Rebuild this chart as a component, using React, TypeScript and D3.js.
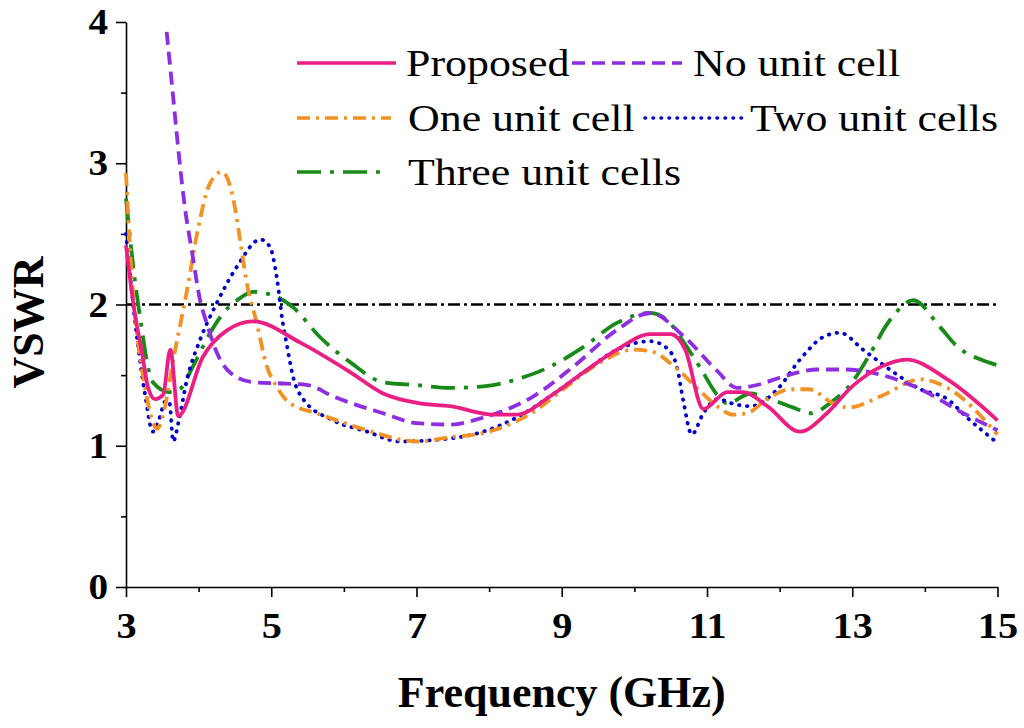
import React, { useEffect, useRef } from 'react';
import * as d3 from 'd3';

// [frequency GHz, VSWR]
const proposed: [number, number][] = [
  [3.0, 2.42], [3.12, 1.94], [3.22, 1.66], [3.3, 1.42], [3.4, 1.33], [3.51, 1.36], [3.61, 1.68], [3.72, 1.21],
  [4.06, 1.63], [4.4, 1.82], [4.75, 1.88], [5.4, 1.73], [6.09, 1.52], [6.54, 1.37], [7.05, 1.3], [7.46, 1.28],
  [8.06, 1.22], [8.38, 1.22], [8.84, 1.35], [9.3, 1.52], [9.76, 1.68], [10.22, 1.79], [10.5, 1.79], [10.7, 1.68],
  [10.95, 1.26], [11.28, 1.38], [11.5, 1.38], [11.83, 1.28], [12.28, 1.1], [12.65, 1.23], [13.0, 1.42],
  [13.4, 1.56], [13.75, 1.61], [14.31, 1.47], [15.0, 1.18],
];
const noUnitCell: [number, number][] = [
  [3.56, 3.93], [3.63, 3.57], [3.72, 3.1], [3.81, 2.69], [3.91, 2.37], [4.02, 2.03], [4.11, 1.87], [4.25, 1.66],
  [4.43, 1.52], [4.75, 1.45], [5.2, 1.44], [5.5, 1.43], [5.85, 1.35], [6.54, 1.23], [7.0, 1.16], [7.46, 1.15],
  [7.92, 1.2], [8.61, 1.35], [9.16, 1.56], [9.76, 1.82], [10.22, 1.94], [10.67, 1.78], [11.14, 1.53],
  [11.41, 1.41], [11.69, 1.43], [12.05, 1.49], [12.52, 1.54], [12.9, 1.54], [13.48, 1.49], [13.94, 1.4],
  [14.53, 1.23], [15.0, 1.11],
];
const oneUnitCell: [number, number][] = [
  [3.0, 2.93], [3.06, 2.35], [3.15, 1.8], [3.25, 1.45], [3.35, 1.2], [3.43, 1.12], [3.5, 1.2], [3.67, 1.66],
  [3.84, 2.1], [3.99, 2.53], [4.15, 2.85], [4.32, 2.94], [4.48, 2.74], [4.57, 2.46], [4.66, 2.16], [4.8, 1.87],
  [4.94, 1.56], [5.05, 1.44], [5.26, 1.3], [5.63, 1.23], [6.32, 1.11], [7.0, 1.03], [7.46, 1.06], [7.92, 1.09],
  [8.61, 1.24], [9.07, 1.42], [9.53, 1.59], [9.98, 1.68], [10.22, 1.67], [10.53, 1.57], [10.86, 1.41],
  [11.14, 1.28], [11.36, 1.22], [11.55, 1.23], [11.83, 1.33], [12.15, 1.4], [12.4, 1.4], [12.74, 1.3],
  [12.95, 1.27], [13.39, 1.35], [13.94, 1.47], [14.31, 1.41], [15.0, 1.08],
];
const twoUnitCells: [number, number][] = [
  [3.0, 2.5], [3.15, 1.77], [3.26, 1.37], [3.37, 1.1], [3.45, 1.18], [3.55, 1.32], [3.6, 1.3], [3.65, 1.03],
  [3.72, 1.16], [3.84, 1.47], [4.02, 1.75], [4.25, 2.01], [4.53, 2.27], [4.85, 2.46], [4.98, 2.41],
  [5.08, 2.18], [5.15, 1.9], [5.22, 1.7], [5.3, 1.49], [5.44, 1.33], [5.85, 1.18], [6.32, 1.1], [6.77, 1.03],
  [7.23, 1.04], [7.92, 1.1], [8.38, 1.2], [8.84, 1.35], [9.3, 1.52], [9.76, 1.68], [10.22, 1.74], [10.45, 1.69],
  [10.59, 1.55], [10.67, 1.33], [10.79, 1.08], [10.95, 1.23], [11.14, 1.33], [11.41, 1.29], [11.6, 1.28],
  [11.97, 1.4], [12.28, 1.61], [12.6, 1.77], [12.83, 1.8], [13.15, 1.68], [13.57, 1.52], [13.94, 1.4],
  [14.31, 1.33], [14.58, 1.2], [15.0, 1.02],
];
const threeUnitCells: [number, number][] = [
  [3.0, 2.75], [3.12, 2.18], [3.22, 1.82], [3.29, 1.59], [3.37, 1.45], [3.6, 1.38], [3.74, 1.4], [3.92, 1.56],
  [4.16, 1.8], [4.34, 1.94], [4.53, 2.03], [4.75, 2.09], [5.05, 2.06], [5.3, 1.98], [5.67, 1.77], [6.09, 1.59],
  [6.54, 1.45], [7.0, 1.43], [7.46, 1.41], [7.92, 1.42], [8.38, 1.47], [8.84, 1.56], [9.3, 1.7], [9.76, 1.87],
  [10.22, 1.94], [10.45, 1.89], [10.67, 1.74], [10.91, 1.55], [11.14, 1.36], [11.28, 1.3], [11.6, 1.37],
  [11.87, 1.33], [12.19, 1.27], [12.42, 1.23], [12.74, 1.32], [13.0, 1.45], [13.2, 1.61], [13.52, 1.89],
  [13.84, 2.03], [14.21, 1.84], [14.45, 1.7], [14.77, 1.61], [15.0, 1.57],
];

const xTicks = [3, 5, 7, 9, 11, 13, 15];
const xMinor = [4, 6, 8, 10, 12, 14];
const yTicks = [0, 1, 2, 3, 4];
const yMinor = [0.5, 1.5, 2.5, 3.5];
const refLevel = 2;

const series = [
  { name: 'Proposed', data: proposed, color: '#EB1E84', dash: null as string | null, cap: 'butt', lx: 297, lw: 99, ly: 63, tx: 406 },
  { name: 'No unit cell', data: noUnitCell, color: '#8E2DE2', dash: '13,7', cap: 'butt', lx: 572, lw: 110, ly: 63, tx: 693 },
  { name: 'One unit cell', data: oneUnitCell, color: '#F39122', dash: '13,6,3,6', cap: 'butt', lx: 297, lw: 94, ly: 118, tx: 408 },
  { name: 'Two unit cells', data: twoUnitCells, color: '#0000CC', dash: '0.5,7.5', cap: 'round', lx: 645, lw: 97, ly: 118, tx: 750 },
  { name: 'Three unit cells', data: threeUnitCells, color: '#178A17', dash: '24,9,4,9', cap: 'butt', lx: 297, lw: 87, ly: 172, tx: 408 },
];

const FONT = "'Liberation Serif', 'Times New Roman', serif";

export default function App() {
  const ref = useRef<SVGSVGElement>(null);

  useEffect(() => {
    if (!ref.current) return;
    const svg = d3.select(ref.current);
    svg.selectAll('*').remove();

    const x = d3.scaleLinear().domain([3, 15]).range([126, 997.5]);
    const y = d3.scaleLinear().domain([0, 4]).range([587, 22]);

    // axes
    const gx = svg.append('g').attr('transform', `translate(0,${y(0)})`);
    gx.call(d3.axisBottom(x).tickValues(xTicks).tickFormat(d3.format('d')).tickSize(10).tickSizeOuter(0));
    gx.append('g').call(d3.axisBottom(x).tickValues(xMinor).tickSize(5).tickFormat(() => ''))
      .call(g => g.select('.domain').remove());
    gx.selectAll('.tick text').attr('y', 51).attr('dy', 0)
      .attr('font-family', FONT).attr('font-weight', 'bold').attr('font-size', 36).attr('fill', '#000')
      .attr('transform', 'scale(1.12,1)');

    const gy = svg.append('g').attr('transform', `translate(${x(3)},0)`);
    gy.call(d3.axisLeft(y).tickValues(yTicks).tickFormat(d3.format('d')).tickSize(10).tickSizeOuter(0));
    gy.append('g').call(d3.axisLeft(y).tickValues(yMinor).tickSize(5).tickFormat(() => ''))
      .call(g => g.select('.domain').remove());
    gy.selectAll('.tick text').attr('x', -16).attr('dy', 0).attr('y', 11.5)
      .attr('font-family', FONT).attr('font-weight', 'bold').attr('font-size', 35).attr('fill', '#000')
      .attr('transform', 'scale(1.12,1)');

    svg.selectAll('.domain, .tick line').attr('stroke', '#000').attr('stroke-width', 1.6);

    // VSWR = 2 reference
    svg.append('line')
      .attr('x1', x(3)).attr('x2', x(15)).attr('y1', y(refLevel)).attr('y2', y(refLevel))
      .attr('stroke', '#000').attr('stroke-width', 2.5).attr('stroke-dasharray', '12,4,3,4');

    const line = d3.line<[number, number]>().x(d => x(d[0])).y(d => y(d[1])).curve(d3.curveMonotoneX);

    // draw back to front so the solid curve sits on top
    [...series].reverse().forEach(s => {
      svg.append('path').datum(s.data).attr('d', line)
        .attr('fill', 'none').attr('stroke', s.color).attr('stroke-width', 3.8)
        .attr('stroke-linecap', s.cap).attr('stroke-linejoin', 'round')
        .attr('stroke-dasharray', s.dash);
    });

    // legend
    series.forEach(s => {
      svg.append('line').attr('x1', s.lx).attr('x2', s.lx + s.lw).attr('y1', s.ly).attr('y2', s.ly)
        .attr('stroke', s.color).attr('stroke-width', 3.5).attr('stroke-linecap', s.cap)
        .attr('stroke-dasharray', s.dash);
      svg.append('text').attr('transform', `translate(${s.tx},${s.ly + 12.5}) scale(1.155,1)`)
        .attr('font-family', FONT).attr('font-size', 38).attr('fill', '#000').text(s.name);
    });

    svg.append('text').attr('x', (x(3) + x(15)) / 2).attr('y', 707).attr('text-anchor', 'middle')
      .attr('font-family', FONT).attr('font-weight', 'bold').attr('font-size', 44).text('Frequency (GHz)');
    svg.append('text').attr('transform', `translate(43,${(y(0) + y(4)) / 2 + 18}) rotate(-90)`)
      .attr('text-anchor', 'middle')
      .attr('font-family', FONT).attr('font-weight', 'bold').attr('font-size', 44).text('VSWR');
  }, []);

  return (
    <svg ref={ref} width={1024} height={728}
      style={{ position: 'absolute', left: 0, top: 0, background: '#fff' }} />
  );
}
